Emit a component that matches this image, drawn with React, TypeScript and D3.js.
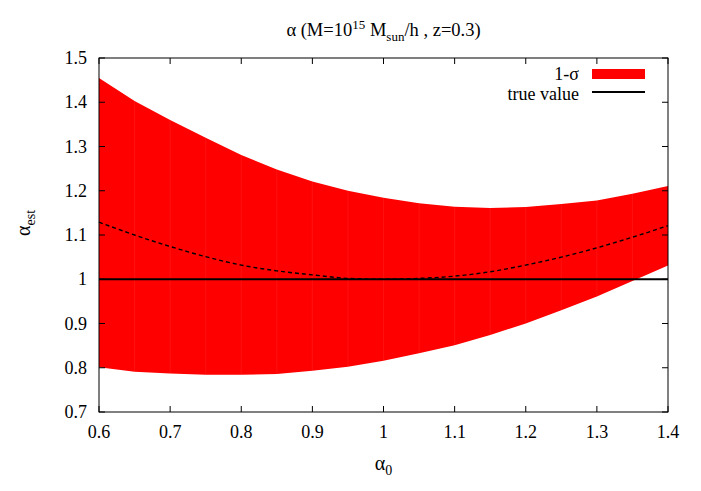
import React, { useEffect, useRef } from 'react';
import * as d3 from 'd3';

// alpha_0 sample points (gnuplot filledcurves, 0.05 step)
const alpha0 = [0.6, 0.65, 0.7, 0.75, 0.8, 0.85, 0.9, 0.95, 1.0, 1.05, 1.1, 1.15, 1.2, 1.25, 1.3, 1.35, 1.4];
const upper = [1.455, 1.403, 1.36, 1.32, 1.281, 1.248, 1.221, 1.2, 1.184, 1.172, 1.164, 1.161, 1.163, 1.17, 1.178, 1.193, 1.211];
const lower = [0.801, 0.791, 0.787, 0.784, 0.784, 0.786, 0.793, 0.802, 0.816, 0.833, 0.851, 0.874, 0.9, 0.93, 0.961, 0.996, 1.031];
const meanEst = [1.129, 1.1, 1.074, 1.051, 1.032, 1.019, 1.01, 1.002, 1.0, 1.002, 1.007, 1.017, 1.032, 1.05, 1.071, 1.095, 1.121];
const trueValue = 1.0;

const xTicks = [0.6, 0.7, 0.8, 0.9, 1.0, 1.1, 1.2, 1.3, 1.4];
const yTicks = [0.7, 0.8, 0.9, 1.0, 1.1, 1.2, 1.3, 1.4, 1.5];
const legendLabels = ['1-σ', 'true value'];

const App = () => {
  const ref = useRef<SVGSVGElement | null>(null);

  useEffect(() => {
    const svg = d3.select(ref.current);
    svg.selectAll('*').remove();

    const width = 701;
    const height = 491;
    const margin = { top: 58, right: 33, bottom: 79, left: 99 };
    const w = width - margin.left - margin.right;
    const h = height - margin.top - margin.bottom;
    const font = '"Liberation Serif", "DejaVu Serif", serif';

    const x = d3.scaleLinear().domain([0.6, 1.4]).range([0, w]);
    const y = d3.scaleLinear().domain([0.7, 1.5]).range([h, 0]);

    const g = svg.append('g').attr('transform', `translate(${margin.left},${margin.top})`);

    const pts = alpha0.map((a, i) => ({ a, lo: lower[i], hi: upper[i], m: meanEst[i] }));

    // Band
    const area = d3
      .area<any>()
      .x((d) => x(d.a))
      .y0((d) => y(d.lo))
      .y1((d) => y(d.hi));
    g.append('path').datum(pts).attr('fill', '#ff0000').attr('d', area);

    // faint seams between polygons
    g.selectAll('.seam')
      .data(pts.slice(1, -1))
      .enter()
      .append('line')
      .attr('class', 'seam')
      .attr('x1', (d) => x(d.a))
      .attr('x2', (d) => x(d.a))
      .attr('y1', (d) => y(d.lo))
      .attr('y2', (d) => y(d.hi))
      .attr('stroke', '#ff6a6a')
      .attr('stroke-width', 0.5)
      .attr('stroke-opacity', 0.3);

    // Mean estimate (dashed)
    const line = d3
      .line<any>()
      .x((d) => x(d.a))
      .y((d) => y(d.m))
      .curve(d3.curveMonotoneX);
    g.append('path')
      .datum(pts)
      .attr('fill', 'none')
      .attr('stroke', '#000')
      .attr('stroke-width', 1.4)
      .attr('stroke-dasharray', '4,3')
      .attr('d', line);

    // True value
    g.append('line')
      .attr('x1', 0)
      .attr('x2', w)
      .attr('y1', y(trueValue))
      .attr('y2', y(trueValue))
      .attr('stroke', '#000')
      .attr('stroke-width', 2);

    // Ticks (mirrored, inward)
    const tl = 6;
    xTicks.forEach((t) => {
      g.append('line').attr('x1', x(t)).attr('x2', x(t)).attr('y1', h).attr('y2', h - tl).attr('stroke', '#000');
      g.append('line').attr('x1', x(t)).attr('x2', x(t)).attr('y1', 0).attr('y2', tl).attr('stroke', '#000');
      g.append('text')
        .attr('x', x(t))
        .attr('y', h + 26)
        .attr('text-anchor', 'middle')
        .style('font-family', font)
        .style('font-size', '18px')
        .text(d3.format('~g')(t));
    });
    yTicks.forEach((t) => {
      g.append('line').attr('x1', 0).attr('x2', tl).attr('y1', y(t)).attr('y2', y(t)).attr('stroke', '#000');
      g.append('line').attr('x1', w).attr('x2', w - tl).attr('y1', y(t)).attr('y2', y(t)).attr('stroke', '#000');
      g.append('text')
        .attr('x', -12)
        .attr('y', y(t) + 6)
        .attr('text-anchor', 'end')
        .style('font-family', font)
        .style('font-size', '18px')
        .text(d3.format('~g')(t));
    });

    // Border
    g.append('rect')
      .attr('width', w)
      .attr('height', h)
      .attr('fill', 'none')
      .attr('stroke', '#000')
      .attr('stroke-width', 1);

    // Legend
    const lx = w - 76;
    legendLabels.forEach((lab, i) => {
      const ly = 16 + i * 20;
      g.append('text')
        .attr('x', lx - 13)
        .attr('y', ly + 6)
        .attr('text-anchor', 'end')
        .style('font-family', font)
        .style('font-size', '18px')
        .text(lab);
      if (i === 0) {
        g.append('rect').attr('x', lx).attr('y', ly - 5).attr('width', 53).attr('height', 10).attr('fill', '#ff0000');
      } else {
        g.append('line')
          .attr('x1', lx)
          .attr('x2', lx + 53)
          .attr('y1', ly - 2)
          .attr('y2', ly - 2)
          .attr('stroke', '#000')
          .attr('stroke-width', 2);
      }
    });

    // Title
    const title = svg
      .append('text')
      .attr('x', margin.left + w / 2)
      .attr('y', 36)
      .attr('text-anchor', 'middle')
      .style('font-family', font)
      .style('font-size', '18.5px');
    title.append('tspan').text('α (M=10');
    title.append('tspan').attr('dy', -7).style('font-size', '13px').text('15');
    title.append('tspan').attr('dy', 7).text(' M');
    title.append('tspan').attr('dy', 5).style('font-size', '13px').text('sun');
    title.append('tspan').attr('dy', -5).text('/h , z=0.3)');

    // x label
    const xl = svg
      .append('text')
      .attr('x', margin.left + w / 2)
      .attr('y', 470)
      .attr('text-anchor', 'middle')
      .style('font-family', font)
      .style('font-size', '20px');
    xl.append('tspan').text('α');
    xl.append('tspan').attr('dy', 5).style('font-size', '14px').text('0');

    // y label
    const yl = svg
      .append('text')
      .attr('transform', `translate(30,${margin.top + h / 2 - 12}) rotate(-90)`)
      .attr('text-anchor', 'middle')
      .style('font-family', font)
      .style('font-size', '20px');
    yl.append('tspan').text('α');
    yl.append('tspan').attr('dy', 5).style('font-size', '14px').text('est');
  }, []);

  return <svg ref={ref} width={701} height={491} style={{ position: 'absolute', left: 0, top: 0, background: '#fff' }} />;
};

export default App;
